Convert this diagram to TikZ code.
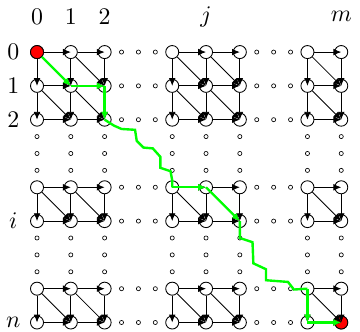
\documentclass[tikz,border=0pt]{standalone}
\usetikzlibrary{positioning,calc,arrows.meta}

\begin{document}
\begin{tikzpicture}[x=7.77pt,y=-7.77pt,
		vtx/.style={circle,draw,inner sep=0pt,minimum size=6pt},
		dot/.style={circle,draw,inner sep=0pt,minimum size=1.9pt,line width=0.3pt},
		arr/.style={-{Latex[length=3.6pt,width=3.1pt]}},
		trail/.style={green,line width=1.1pt},
		trailarr/.style={trail,-{Latex[length=3.6pt,width=3.2pt]}},
		lbl/.style={font=\fontsize{11}{13}\selectfont}]
		\useasboundingbox (-2.19,-3.08) rectangle (19.11,16.51);
		
		% the grid points
		\foreach \r/\y in {0/0,1/2,2/4,i1/8,i/10,n1/14,n/16}
		\foreach \c/\x in {0/0,1/2,2/4,j1/8,j/10,j2/12,m1/16,m/18}
		\node[vtx] (v\r-\c) at (\x,\y) {};
		\node[vtx,fill=red] (src) at (v0-0) {};
		\node[vtx,fill=red] (dst) at (vn-m) {};
		
		% dots between the blocks
		\foreach \y in {0,2,4,8,10,14,16}
		\foreach \x in {5,6,7,13,14,15}
		\node[dot] (d\x-\y) at (\x,\y) {};
		\foreach \x in {0,2,4,8,10,12,16,18}
		\foreach \y in {5,6,7,11,12,13}
		\node[dot] (d\x-\y) at (\x,\y) {};
		
		% labels
		\foreach \c/\x in {0/0,1/2,2/4,j/10,m/18}
		\node[lbl] (col\c) at (\x,-2.1) {$\c$};
		\foreach \r/\y in {0/0,1/2,2/4,i/10,n/16}
		\node[lbl] (row\r) at (-1.4,\y) {$\r$};
		
		% edges
		\foreach \r in {0,1,2,i1,i,n1,n}
		\foreach \a/\b in {0/1,1/2,j1/j,j/j2,m1/m}
		\draw[arr] (v\r-\a) -- (v\r-\b.center);
		\foreach \c in {0,1,2,j1,j,j2,m1,m}
		\foreach \a/\b in {0/1,1/2,i1/i,n1/n}
		\draw[arr] (v\a-\c) -- (v\b-\c.center);
		\foreach \p/\q in {0/1,1/2,i1/i,n1/n}
		\foreach \a/\b in {0/1,1/2,j1/j,j/j2,m1/m}
		\draw[arr] (v\p-\a) -- (v\q-\b.center);
		
		% the path
		\draw[trailarr] (src) -- (v1-1.center);
		\draw[trailarr] (v1-1.center) -- (v1-2.center);
		\draw[trailarr] (v1-2.center) -- (v2-2.center);
		\draw[trail] (v2-2.center) -- (4.55,4.35) -- (5.0,4.55) -- (5.8,4.6) -- (5.9,5.25)
			-- (6.3,5.65) -- (6.85,5.7) -- (7.3,6.2) -- (7.3,6.85) -- (7.9,7.05) -- (8,7.6) -- (vi1-j1.center);
		\draw[trailarr] (vi1-j1.center) -- (vi1-j.center);
		\draw[trailarr] (vi1-j.center) -- (vi-j2.center);
		\draw[trail] (vi-j2.center) -- (12,11.0) -- (12.75,11.25) -- (12.8,12.5) -- (13.55,12.85)
			-- (13.55,13.5) -- (14.85,13.6) -- (15.2,14.05) -- (vn1-m1.center);
		\draw[trailarr] (vn1-m1.center) -- (vn-m1.center);
		\draw[trailarr] (vn-m1.center) -- (dst.center);
	\end{tikzpicture}
\end{document}
